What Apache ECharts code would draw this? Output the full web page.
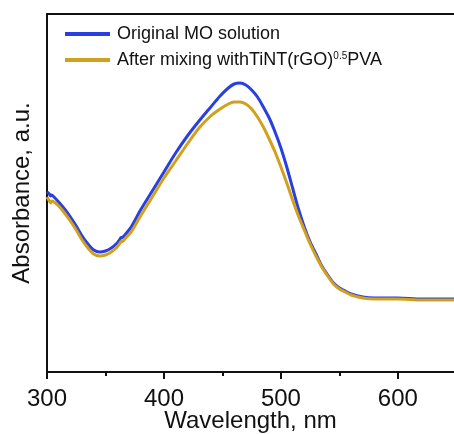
<!DOCTYPE html>
<html>
<head>
<meta charset="utf-8">
<script src="https://cdn.jsdelivr.net/npm/echarts@6/dist/echarts.min.js"></script>
<style>html,body{margin:0;padding:0;background:#fff}#c{width:454px;height:434px}</style>
</head>
<body>
<div id="c"></div>
<script>
var wavelengths = [300,302,303,304,306,310,315,320,325,330,335,340,345,350,355,360,362,363,365,368,372,380,390,400,410,420,430,440,448,455,460,465,470,475,480,485,490,495,500,505,510,515,520,525,530,535,540,545,550,555,560,570,580,600,620,648];
var originalMO = [1.80,1.78,1.76,1.77,1.75,1.70,1.63,1.55,1.46,1.36,1.28,1.22,1.20,1.21,1.24,1.29,1.32,1.34,1.35,1.39,1.45,1.62,1.81,2.00,2.19,2.36,2.51,2.65,2.76,2.84,2.88,2.89,2.87,2.82,2.75,2.65,2.54,2.40,2.24,2.05,1.84,1.63,1.45,1.30,1.18,1.06,0.97,0.89,0.84,0.81,0.78,0.75,0.74,0.74,0.73,0.73];
var afterMixing = [1.75,1.71,1.69,1.71,1.70,1.66,1.59,1.51,1.42,1.32,1.24,1.18,1.16,1.17,1.20,1.25,1.28,1.30,1.31,1.35,1.40,1.56,1.75,1.94,2.11,2.28,2.44,2.56,2.63,2.68,2.70,2.70,2.68,2.63,2.55,2.45,2.33,2.20,2.05,1.89,1.72,1.56,1.42,1.28,1.16,1.05,0.96,0.88,0.83,0.80,0.77,0.74,0.73,0.73,0.72,0.72];
var seriesNames = ['Original MO solution', 'After mixing withTiNT(rGO)0.5PVA'];
var xTicks = [300, 400, 500, 600];
var xMinorTicks = [350, 450, 550];

function pairs(xs, ys) { return xs.map(function (x, i) { return [x, ys[i]]; }); }

var chart = echarts.init(document.getElementById('c'), null, {renderer: 'canvas'});
var font = 'Liberation Sans, Arial, sans-serif';
chart.setOption({
  animation: false,
  backgroundColor: '#fff',
  grid: {left: 47, right: 0, top: 14, bottom: 62, containLabel: false, outerBoundsMode: 'none'},
  legend: {
    orient: 'vertical', left: 65, top: 25, padding: 0, itemWidth: 45, itemHeight: 4, itemGap: 8,
    icon: 'rect',
    data: seriesNames,
    formatter: function (n) {
      if (n.indexOf('After') === 0) return 'After mixing withTiNT(rGO){sup|0.5}PVA';
      return n;
    },
    textStyle: {
      fontFamily: font, fontSize: 18, color: '#111', padding: [0, 0, 0, 2],
      rich: {sup: {fontFamily: font, fontSize: 10, color: '#111', padding: [0, 0, 8, 0]}}
    }
  },
  xAxis: [{
    type: 'value', min: 300, max: 648,
    name: 'Wavelength, nm', nameLocation: 'middle', nameGap: 37, nameMoveOverlap: false,
    nameTextStyle: {fontFamily: font, fontSize: 24, color: '#111'},
    axisLine: {lineStyle: {color: '#111', width: 2}},
    axisTick: {show: true, inside: false, length: 7, customValues: xTicks, lineStyle: {color: '#111', width: 2}},
    axisLabel: {fontFamily: font, fontSize: 24, color: '#111', margin: 15,
      customValues: xTicks, hideOverlap: false},
    splitLine: {show: false}
  }, {
    type: 'value', min: 300, max: 648, position: 'top',
    axisLine: {show: true, lineStyle: {color: '#111', width: 2}},
    axisTick: {show: false}, axisLabel: {show: false}, splitLine: {show: false}
  }, {
    type: 'value', min: 300, max: 648, position: 'bottom', offset: 0,
    axisLine: {show: false},
    axisTick: {show: true, inside: false, length: 4, customValues: xMinorTicks, lineStyle: {color: '#111', width: 2}},
    axisLabel: {show: false}, splitLine: {show: false}
  }],
  yAxis: {
    type: 'value', min: 0, max: 3.58,
    name: 'Absorbance, a.u.', nameLocation: 'middle', nameGap: 13,
    nameTextStyle: {fontFamily: font, fontSize: 24, color: '#111'},
    axisLine: {show: true, lineStyle: {color: '#111', width: 2}},
    axisTick: {show: false}, axisLabel: {show: false}, splitLine: {show: false}
  },
  series: [{
    name: seriesNames[0], type: 'line', data: pairs(wavelengths, originalMO),
    showSymbol: false, symbol: 'none', smooth: 0.3,
    lineStyle: {color: '#2a3fe2', width: 3}, itemStyle: {color: '#2a3fe2'}
  }, {
    name: seriesNames[1], type: 'line', data: pairs(wavelengths, afterMixing),
    showSymbol: false, symbol: 'none', smooth: 0.3,
    lineStyle: {color: '#d0a01e', width: 3}, itemStyle: {color: '#d0a01e'}
  }]
});
</script>
</body>
</html>
